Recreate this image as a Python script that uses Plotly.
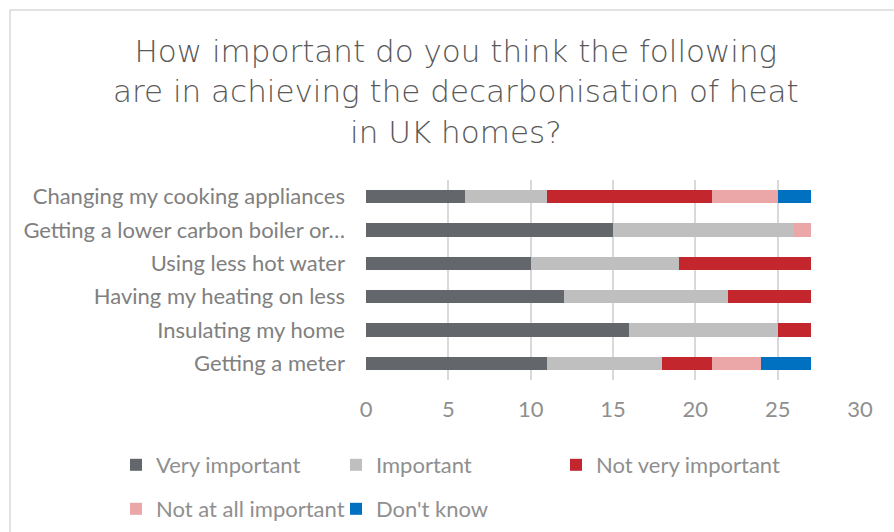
import plotly.graph_objects as go

categories = [
    "Changing my cooking appliances",
    "Getting a lower carbon boiler or…",
    "Using less hot water",
    "Having my heating on less",
    "Insulating my home",
    "Getting a meter",
]
very_important = [6, 15, 10, 12, 16, 11]
important = [5, 11, 9, 10, 9, 7]
not_very_important = [10, 0, 8, 5, 2, 3]
not_at_all_important = [4, 1, 0, 0, 0, 3]
dont_know = [2, 0, 0, 0, 0, 3]

series_names = ["Very important", "Important", "Not very important",
                "Not at all important", "Don't know"]
series_values = [very_important, important, not_very_important,
                 not_at_all_important, dont_know]
colors = ["#63666a", "#bfbfbf", "#c4262e", "#eba7a8", "#0070c0"]
x_ticks = [0, 5, 10, 15, 20, 25, 30]
title_text = ("How important do you think the following<br>"
              "are in achieving the decarbonisation of heat<br>"
              "in UK homes?")

W, H = 894, 532
L, R, T, B = 366, 894 - 860, 180, 532 - 380

# legend item positions (left edge in px, row centre in px)
legend_pos = [(116, 465), (336, 465), (556, 465), (116, 509), (336, 509)]
legend_ids = ["legend", "legend2", "legend3", "legend4", "legend5"]


def px_to_x(px):
    return (px - L) / (W - L - R)


def py_to_y(py):
    return (H - B - py) / (H - T - B)


fig = go.Figure()
for name, vals, col, lg in zip(series_names, series_values, colors, legend_ids):
    fig.add_trace(go.Bar(
        y=categories, x=vals, name=name, orientation="h",
        marker=dict(color=col, line=dict(width=0)),
        legend=lg,
    ))

label_font = dict(family="Lato, Carlito, sans-serif", size=22, color="#8f8f8f")

layout = dict(
    width=W, height=H,
    margin=dict(l=L, r=R, t=T, b=B, autoexpand=False),
    barmode="stack",
    bargap=0.6,
    plot_bgcolor="white",
    paper_bgcolor="white",
    xaxis=dict(
        range=[0, 30], tickvals=x_ticks, showgrid=True, gridcolor="#d9d9d9",
        gridwidth=1.5, zeroline=False, showline=False, ticks="",
        tickfont=label_font, ticklabelstandoff=14, fixedrange=True,
    ),
    yaxis=dict(
        autorange="reversed", showgrid=False, ticks="", showline=False,
        tickfont=dict(family="Lato, Carlito, sans-serif", size=22, color="#808080"),
        ticklabelstandoff=20,
    ),
    showlegend=True,
)
for lg, (lx, ly) in zip(legend_ids, legend_pos):
    layout[lg] = dict(
        orientation="h", xref="container", yref="container",
        x=lx / W, y=1 - ly / H, xanchor="left", yanchor="middle",
        font=dict(family="Lato, Carlito, sans-serif", size=22, color="#8f8f8f"),
        bgcolor="rgba(0,0,0,0)",
    )
fig.update_layout(**layout)

fig.add_annotation(
    text=title_text, xref="paper", yref="paper",
    x=px_to_x(456), y=py_to_y(31), xanchor="center", yanchor="top",
    showarrow=False, align="center",
    font=dict(family="DejaVu Sans, sans-serif", size=31, color="#595959", weight=200),
)

# outer frame of the chart area (partially cropped in the reference)
fig.add_shape(
    type="rect", xref="paper", yref="paper",
    x0=px_to_x(10), x1=px_to_x(910), y0=py_to_y(560), y1=py_to_y(10),
    line=dict(color="#d9d9d9", width=1.5), fillcolor="rgba(0,0,0,0)",
    layer="below",
)

fig.write_html("out.html",
               config={"displayModeBar": False},
               post_script="document.body.style.margin='0';document.body.style.overflow='hidden';")
